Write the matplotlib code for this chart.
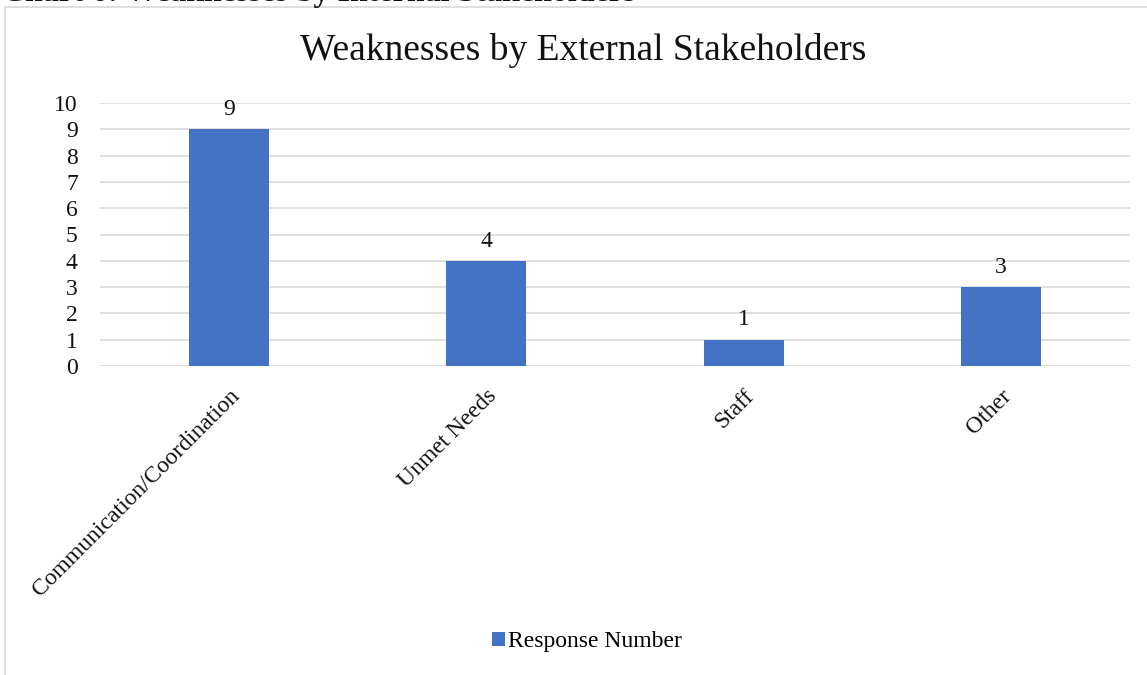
import matplotlib
matplotlib.use("Agg")
import matplotlib.pyplot as plt
from matplotlib.patches import Rectangle

categories = ["Communication/Coordination", "Unmet Needs", "Staff", "Other"]
response_number = [9, 4, 1, 3]
y_ticks = list(range(0, 11))

W, H = 1147, 675
fig = plt.figure(figsize=(W / 100, H / 100), dpi=100)
plt.rcParams["font.family"] = ["Liberation Serif", "DejaVu Serif"]

# chart frame
fig.add_artist(Rectangle((5 / W, -0.1), 1.2, 1 - 7 / H + 0.1, transform=fig.transFigure,
                         fill=False, edgecolor="#d9d9d9", linewidth=1.2))

# caption above the chart, mostly outside the canvas
fig.text(2 / W, 1 - 1 / H, "Chart 6: Weaknesses by Internal Stakeholders", fontsize=23,
         ha="left", va="baseline", color="#111111", fontweight="bold")

ax = fig.add_axes([100 / W, 1 - 366 / H, 1030 / W, 263 / H])
x = list(range(len(categories)))
bars = ax.bar(x, response_number, width=0.31, color="#4472c4", label="Response Number", zorder=3)
for xi, v in zip(x, response_number):
    ax.text(xi, v + 0.35, str(v), ha="center", va="bottom", fontsize=17, color="#111111")

ax.set_xlim(-0.5, len(categories) - 0.5)
ax.set_ylim(0, 10)
ax.set_yticks(y_ticks)
ax.set_yticklabels([str(t) for t in y_ticks], fontsize=17, color="#111111")
ax.set_xticks(x)
ax.set_xticklabels(categories, rotation=45, ha="right", rotation_mode="anchor",
                   fontsize=17, color="#111111")
ax.tick_params(axis="both", length=0)
ax.tick_params(axis="y", pad=16)
ax.tick_params(axis="x", pad=14)
ax.grid(axis="y", color="#d9d9d9", linewidth=1.2, zorder=0)
for s in ax.spines.values():
    s.set_visible(False)

fig.text(583 / W, 1 - 50 / H, "Weaknesses by External Stakeholders", fontsize=27,
         ha="center", va="center", color="#111111")

fig.legend(handles=[bars], labels=["Response Number"], loc="center",
           bbox_to_anchor=(587 / W, 1 - 642 / H), frameon=False, fontsize=17,
           handlelength=0.55, handleheight=0.55, handletextpad=0.15)

fig.savefig("out.png", dpi=100, facecolor="white")
